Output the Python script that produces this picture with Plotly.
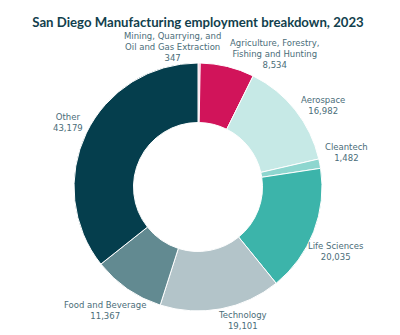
import math
import plotly.graph_objects as go

categories = [
    "Mining, Quarrying, and<br>Oil and Gas Extraction",
    "Agriculture, Forestry,<br>Fishing and Hunting",
    "Aerospace",
    "Cleantech",
    "Life Sciences",
    "Technology",
    "Food and Beverage",
    "Other",
]
values = [347, 8534, 16982, 1482, 20035, 19101, 11367, 43179]
colors = ["#f2a7c3", "#d1145a", "#c6e9e6", "#8ed6cf", "#3cb4aa", "#b3c4c9", "#628a91", "#053e4d"]

# label nudges in px (x right, y up), style only
label_shift = [(-27, 10), (46, 7), (23, 1), (21, 10), (17, -18), (20, -6), (-19, -17), (-13, 8)]

W, H = 400, 335
ml, mr, mt, mb = 74, 78, 63, 24
pw, ph = W - ml - mr, H - mt - mb

fig = go.Figure(go.Pie(
    labels=categories,
    values=values,
    sort=False,
    direction="clockwise",
    rotation=0,
    hole=0.52,
    marker=dict(colors=colors, line=dict(color="white", width=1)),
    textinfo="none",
    hoverinfo="label+value",
    showlegend=False,
))

total = sum(values)
cum = 0
label_r = 130  # px from pie centre
for lab, v, (dx, dy) in zip(categories, values, label_shift):
    mid = (cum + v / 2) / total * 2 * math.pi
    cum += v
    x = 0.5 + label_r * math.sin(mid) / pw
    y = 0.5 + label_r * math.cos(mid) / ph
    fig.add_annotation(
        x=x, y=y, xref="paper", yref="paper",
        text=f"{lab}<br>{v:,}",
        showarrow=False, xanchor="center", yanchor="middle",
        xshift=dx, yshift=dy, align="center",
        font=dict(family="DejaVu Sans", size=8.5, color="#4a6d79"),
    )

fig.update_layout(
    width=W, height=H,
    margin=dict(l=ml, r=mr, t=mt, b=mb),
    paper_bgcolor="white",
    title=dict(
        text="<b>San Diego Manufacturing employment breakdown, 2023</b>",
        x=0.495, xanchor="center", y=1 - 22 / H, yanchor="middle",
        font=dict(family="Lato", size=13.2, color="#123f4d"),
    ),
)

fig.write_html("out.html")
